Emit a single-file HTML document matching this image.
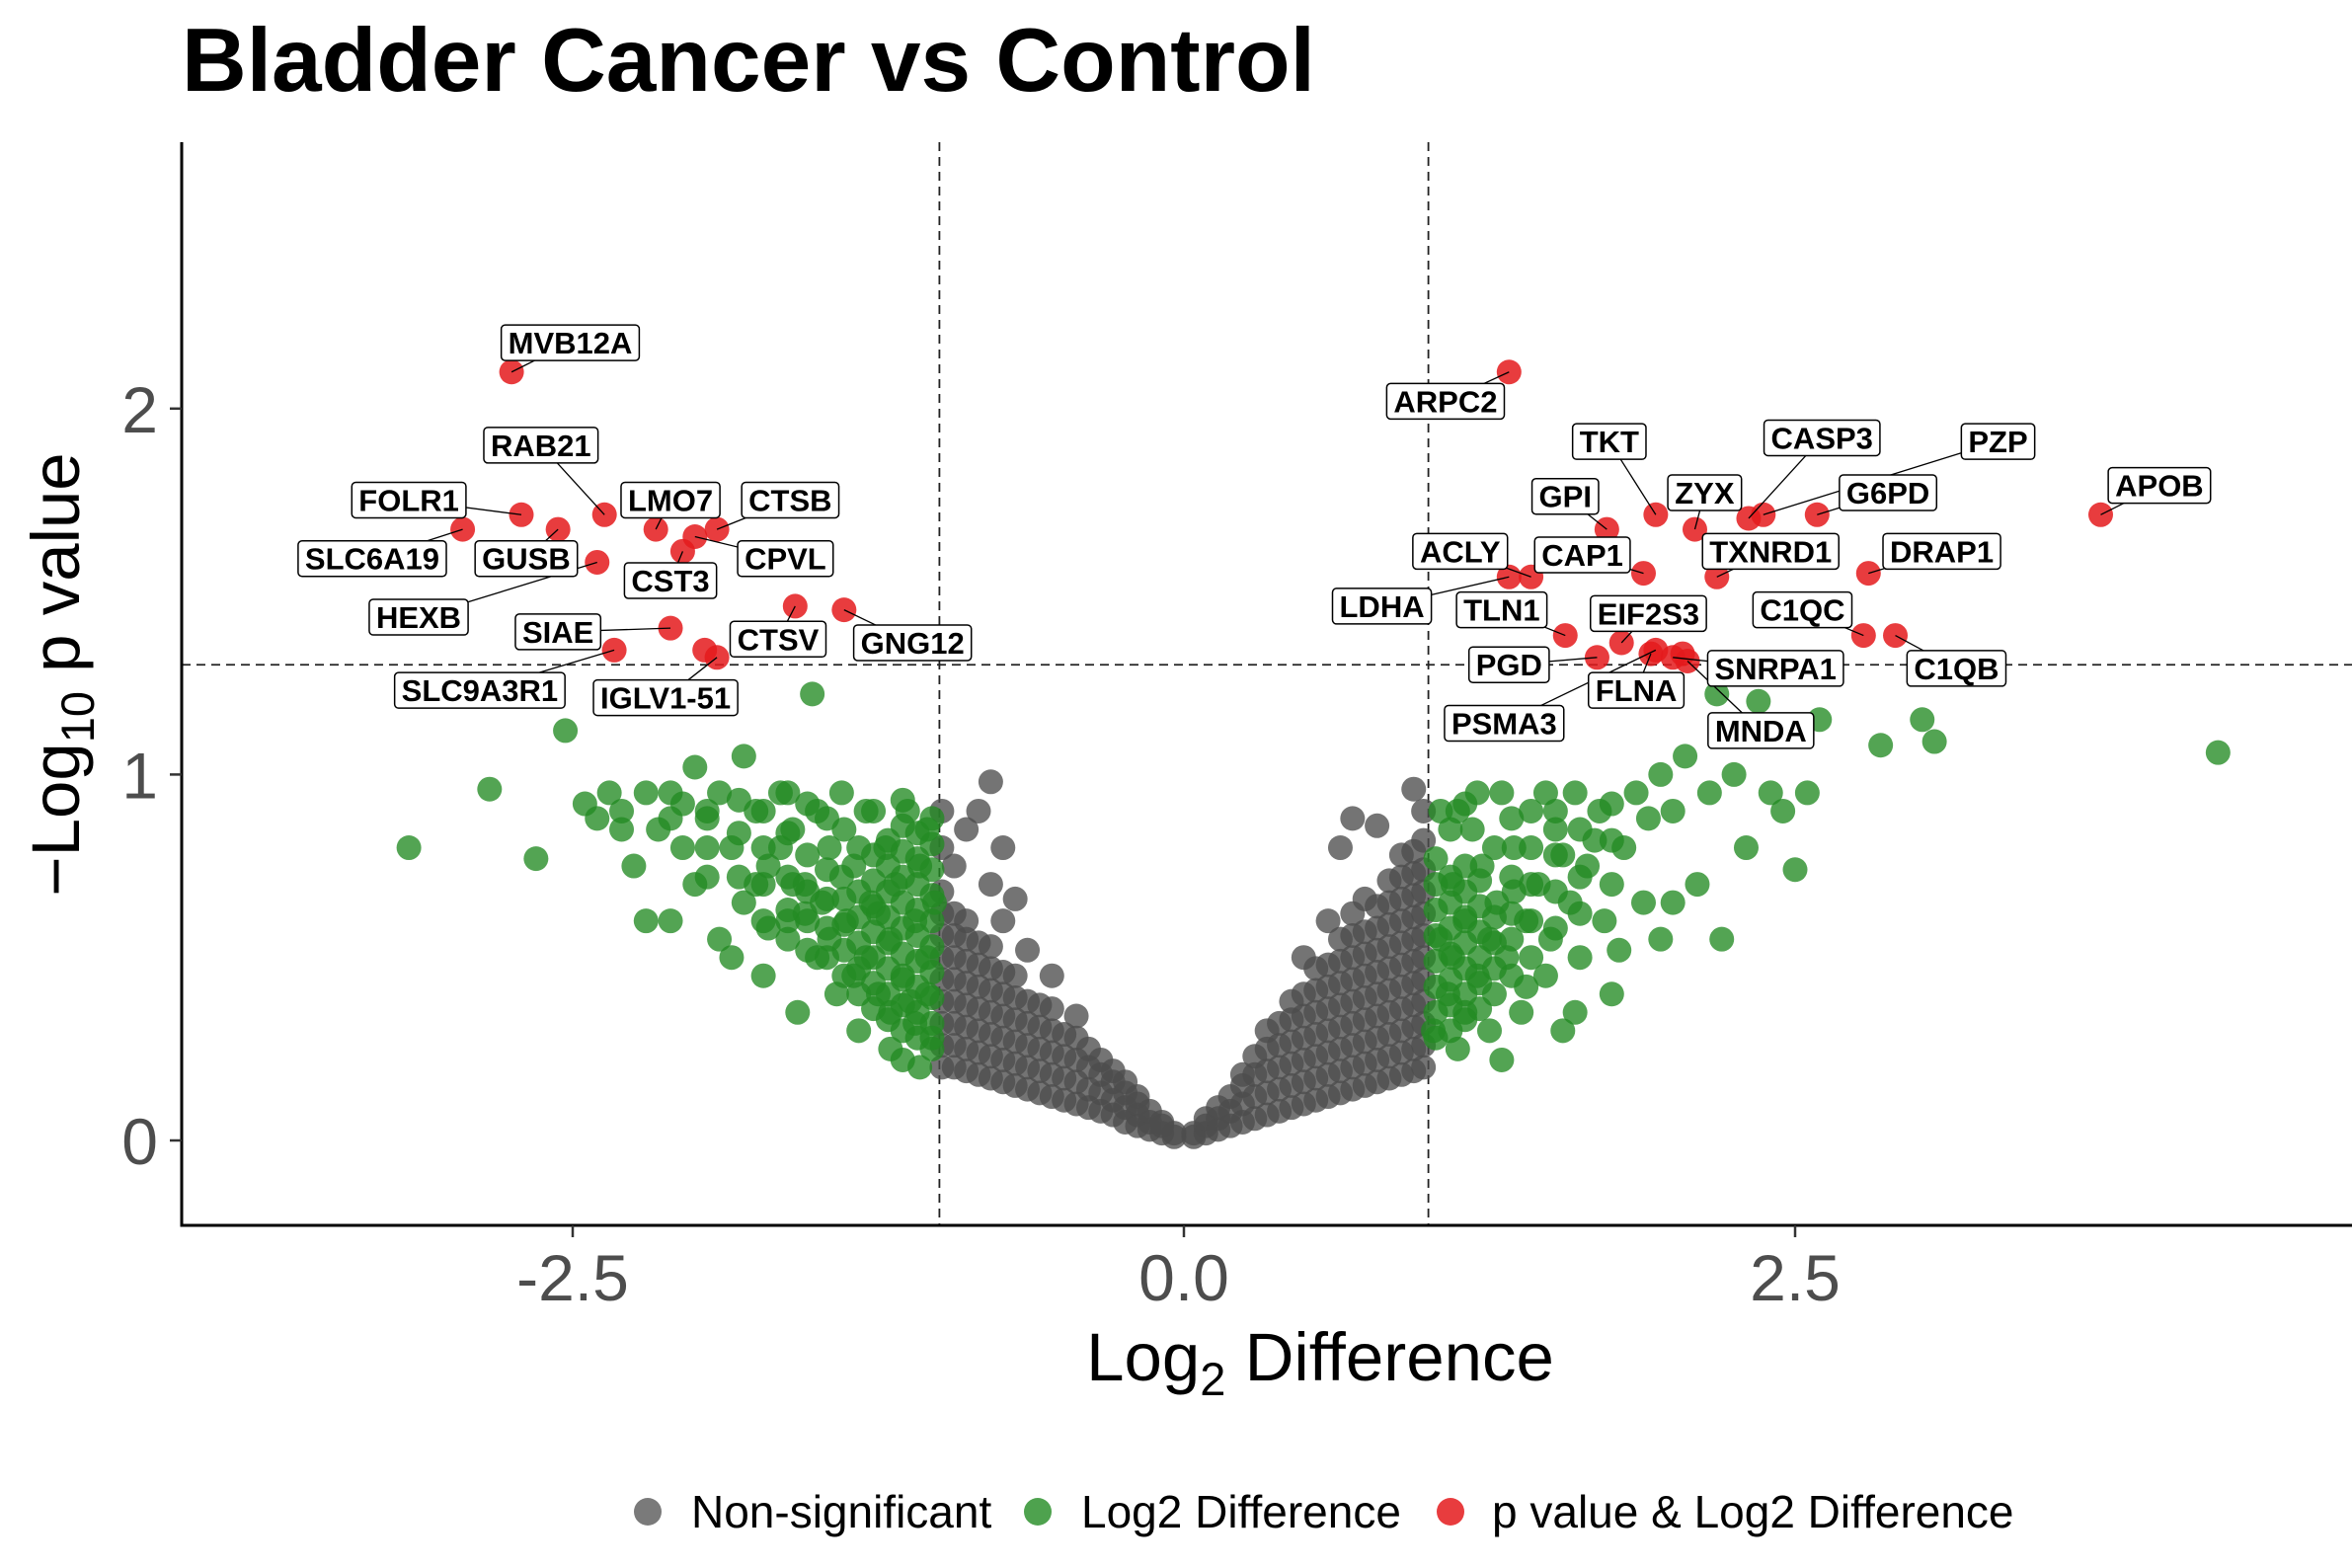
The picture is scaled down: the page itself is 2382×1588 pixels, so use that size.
<!DOCTYPE html>
<html><head><meta charset="utf-8">
<style>
html,body{margin:0;padding:0;background:#fff;}
svg{display:block;font-family:"Liberation Sans",Arial,sans-serif;}
</style></head>
<body>
<svg id="chart" width="2382" height="1588" viewBox="0 0 2382 1588" xmlns="http://www.w3.org/2000/svg">
<rect x="0" y="0" width="2382" height="1588" fill="#fff"/>
<text x="184" y="92" font-size="91" font-weight="bold" fill="#000">Bladder Cancer vs Control</text>
<g id="grid"></g>
<g id="gray"></g>
<g id="green"></g>
<g id="red"></g>
<g id="segs"></g>
<g id="labels"></g>
<g id="axes"></g>
<text x="1337" y="1398" font-size="69" text-anchor="middle" fill="#000">Log<tspan font-size="47" dy="15">2</tspan><tspan dy="-15"> Difference</tspan></text>
<text transform="translate(80,683) rotate(-90)" font-size="69" text-anchor="middle" fill="#000">−Log<tspan font-size="47" dy="15">10</tspan><tspan dy="-15"> p value</tspan></text>
<g>
<circle cx="656" cy="1531" r="14" fill="#4d4d4d" fill-opacity="0.75"/>
<text x="700" y="1547" font-size="46" fill="#000">Non-significant</text>
<circle cx="1051" cy="1531" r="14" fill="#228b22" fill-opacity="0.8"/>
<text x="1095" y="1547" font-size="46" fill="#000">Log2 Difference</text>
<circle cx="1469" cy="1531" r="14" fill="#e41a1c" fill-opacity="0.85"/>
<text x="1511" y="1547" font-size="46" fill="#000">p value &amp; Log2 Difference</text>
</g>
</svg>
<script>
// ---- data ----
const xTicks = [-2.5, 0.0, 2.5];
const xTickLabels = ["-2.5", "0.0", "2.5"];
const yTicks = [0, 1, 2];
const yTickLabels = ["0", "1", "2"];
const fcCut = [-1, 1];
const pCut = 1.3;
const grayCols = [
[-0.99,[.2,.26,.32,.38,.44,.5,.56,.62,.68,.8,.9]],
[-0.94,[.2,.26,.32,.38,.44,.5,.56,.62,.75]],
[-0.89,[.19,.25,.31,.37,.43,.49,.55,.6,.85]],
[-0.84,[.18,.24,.3,.36,.42,.48,.54,.9]],
[-0.79,[.17,.23,.29,.35,.41,.47,.53,.98,.7]],
[-0.74,[.16,.22,.28,.34,.4,.46,.8,.6]],
[-0.69,[.15,.21,.27,.33,.39,.45,.66]],
[-0.64,[.14,.2,.26,.32,.38,.52]],
[-0.59,[.13,.19,.25,.31,.37]],
[-0.54,[.12,.18,.24,.3,.36,.45]],
[-0.49,[.11,.17,.23,.29]],
[-0.44,[.1,.16,.22,.28,.34]],
[-0.39,[.09,.14,.2,.25]],
[-0.34,[.08,.13,.18,.22]],
[-0.29,[.07,.11,.16,.19]],
[-0.24,[.05,.09,.13,.16]],
[-0.19,[.04,.07,.1,.12]],
[-0.14,[.03,.05,.08]],
[-0.09,[.02,.04,.05]],
[-0.04,[.01,.02]],
[0.04,[.01,.02]],
[0.09,[.02,.04,.06]],
[0.14,[.03,.06,.09]],
[0.19,[.04,.08,.12]],
[0.24,[.05,.1,.15,.18]],
[0.29,[.06,.12,.18,.23]],
[0.34,[.07,.13,.19,.25,.3]],
[0.39,[.08,.14,.2,.26,.32]],
[0.44,[.09,.15,.21,.27,.33,.38]],
[0.49,[.1,.16,.22,.28,.34,.4,.5]],
[0.54,[.11,.17,.23,.29,.35,.41,.47]],
[0.59,[.12,.18,.24,.3,.36,.42,.48,.6]],
[0.64,[.13,.19,.25,.31,.37,.43,.49,.55,.8]],
[0.69,[.14,.2,.26,.32,.38,.44,.5,.56,.62,.88]],
[0.74,[.15,.21,.27,.33,.39,.45,.51,.57,.66]],
[0.79,[.16,.22,.28,.34,.4,.46,.52,.58,.64,.86]],
[0.84,[.17,.23,.29,.35,.41,.47,.53,.59,.65,.71]],
[0.89,[.18,.24,.3,.36,.42,.48,.54,.6,.66,.72,.78]],
[0.94,[.19,.25,.31,.37,.43,.49,.55,.61,.67,.73,.79,.96]],
[0.98,[.2,.26,.32,.38,.44,.5,.56,.62,.68,.74,.82,.9]]
];
const greenCols = [
[-1.03,[.25,.32,.39,.46,.53,.6,.67,.74,.81,.88]],
[-1.09,[.28,.35,.42,.49,.56,.63,.7,.77,.84]],
[-1.15,[.3,.37,.44,.51,.58,.65,.72,.79,.86,.93]],
[-1.21,[.33,.4,.47,.54,.61,.68,.75,.82]],
[-1.27,[.36,.43,.5,.57,.64,.71,.78,.9]],
[-1.33,[.4,.47,.54,.61,.68,.8]],
[-1.39,[.45,.52,.59,.66,.85]],
[-1.46,[.5,.58,.66,.74,.88]],
[-1.54,[.52,.6,.68,.78,.92]],
[-1.62,[.55,.63,.72,.84,.95]],
[-1.72,[.6,.7,.8,.9]],
[-1.82,[.72,.84,.93]],
[-1.95,[.8,.9]],
[-2.1,[.88,.95]],
[1.03,[.28,.35,.42,.49,.56,.63,.7,.77]],
[1.09,[.3,.37,.44,.51,.58,.65,.72,.85]],
[1.15,[.33,.4,.47,.54,.61,.68,.75,.92]],
[1.21,[.36,.43,.5,.57,.64,.71]],
[1.27,[.4,.47,.54,.61,.8]],
[1.34,[.45,.55,.62,.72,.88]],
[1.42,[.5,.6,.7,.8]],
[1.52,[.58,.68,.78,.9]],
[1.62,[.62,.72,.85]],
[1.75,[.7,.82,.92]]
];
const greenPts = [
[-3.17,0.80],[-2.84,0.96],[-2.65,0.77],[-2.53,1.12],[-2.4,0.88],[-2.35,0.95],[-2.3,0.9],[-2.25,0.75],[-2.2,0.95],[-2.15,0.85],[-2.1,0.6],[-2.05,0.92],[-2.0,0.7],[-2.0,1.02],[-1.95,0.88],[-1.9,0.55],[-1.9,0.95],[-1.85,0.8],[-1.8,1.05],[-1.8,0.65],[-1.75,0.9],[-1.72,0.45],[-1.7,0.75],[-1.65,0.95],[-1.62,0.6],[-1.6,0.85],[-1.58,0.35],[-1.55,0.7],[-1.52,1.22],[-1.5,0.9],[-1.5,0.5],[-1.48,0.65],[-1.45,0.8],[-1.42,0.4],[-1.4,0.95],[-1.38,0.6],[-1.35,0.75],[-1.33,0.3],[-1.3,0.5],[-1.3,0.9],[-1.28,0.65],[-1.25,0.4],[-1.22,0.8],[-1.2,0.55],[-1.2,0.25],[-1.18,0.7],[-1.15,0.45],[-1.13,0.9],[-1.1,0.6],[-1.1,0.32],[-1.08,0.75],[-1.05,0.5],[-1.05,0.85],[-1.03,0.28],[-1.02,0.65],[-1.15,0.22],[-1.7,0.58],[-1.85,0.5],[-2.2,0.6],[-2.05,0.8],[-1.6,0.7],[-1.45,0.55],[-1.35,0.45],[-1.25,0.62],[-1.12,0.38],[-1.4,0.72],[-1.55,0.62],[-1.65,0.8],[-1.75,0.7],[-1.95,0.72],[-2.3,0.85],[-2.45,0.92],[-1.05,0.4],[-1.08,0.2],[-1.2,0.35],
[1.02,0.3],[1.05,0.55],[1.05,0.9],[1.08,0.4],[1.1,0.7],[1.12,0.25],[1.15,0.6],[1.18,0.85],[1.2,0.45],[1.22,0.75],[1.25,0.3],[1.28,0.65],[1.3,0.95],[1.32,0.5],[1.35,0.8],[1.38,0.35],[1.4,0.6],[1.42,0.9],[1.45,0.7],[1.48,0.45],[1.5,0.55],[1.52,0.85],[1.55,0.3],[1.58,0.65],[1.6,0.95],[1.62,0.5],[1.65,0.75],[1.7,0.9],[1.72,0.6],[1.75,0.4],[1.8,0.8],[1.85,0.95],[1.88,0.65],[1.9,0.88],[1.95,0.55],[2.0,0.9],[2.05,1.05],[2.1,0.7],[2.15,0.95],[2.2,0.55],[2.25,1.0],[2.3,0.8],[2.35,1.2],[2.45,0.9],[2.5,0.74],[2.55,0.95],[2.6,1.15],[2.85,1.08],[3.02,1.15],[3.07,1.09],[4.23,1.06],[1.12,0.9],[1.25,0.55],[1.4,0.42],[1.3,0.22],[1.6,0.35],[1.2,0.95],[1.48,0.95],[1.78,0.52],[1.95,1.0],[2.0,0.65],[1.68,0.82],[1.1,0.5],[1.35,0.68],[1.55,0.78],[2.4,0.95],[2.18,1.22],[1.15,0.35]
];
const geneNames = ["MVB12A","FOLR1","SLC6A19","RAB21","GUSB","HEXB","LMO7","CTSB","CPVL","CST3","SIAE","SLC9A3R1","IGLV1-51","CTSV","GNG12","ARPC2","TKT","GPI","ZYX","CASP3","PZP","G6PD","APOB","ACLY","CAP1","TXNRD1","DRAP1","LDHA","TLN1","EIF2S3","C1QC","C1QB","PGD","FLNA","SNRPA1","PSMA3","MNDA"];
const geneX = [-2.75,-2.71,-2.95,-2.37,-2.56,-2.40,-2.16,-1.91,-2.0,-2.05,-2.10,-2.33,-1.91,-1.59,-1.39,1.33,1.93,1.73,2.09,2.31,2.37,2.59,3.75,1.42,1.88,2.18,2.80,1.33,1.56,1.79,2.78,2.91,1.69,1.91,2.0,1.93,2.06];
const geneY = [2.10,1.71,1.67,1.71,1.67,1.58,1.67,1.67,1.65,1.61,1.40,1.34,1.32,1.46,1.45,2.10,1.71,1.67,1.67,1.70,1.71,1.71,1.71,1.54,1.55,1.54,1.55,1.54,1.38,1.36,1.38,1.38,1.32,1.33,1.32,1.34,1.31];
const labelX = [-2.51,-3.17,-3.32,-2.63,-2.69,-3.13,-2.10,-1.61,-1.63,-2.10,-2.56,-2.88,-2.12,-1.66,-1.11,1.07,1.74,1.56,2.13,2.61,3.33,2.88,3.99,1.13,1.63,2.40,3.10,0.81,1.30,1.90,2.53,3.16,1.33,1.85,2.42,1.31,2.36];
const labelY = [2.18,1.75,1.59,1.90,1.59,1.43,1.75,1.75,1.59,1.53,1.39,1.23,1.21,1.37,1.36,2.02,1.91,1.76,1.77,1.92,1.91,1.77,1.79,1.61,1.60,1.61,1.61,1.46,1.45,1.44,1.45,1.29,1.30,1.23,1.29,1.14,1.12];
const extraRedX = [-1.96, 2.04];
const extraRedY = [1.34, 1.33];

// ---- scales ----
const X0 = 1199, XU = 247.6, Y0 = 1155, YU = 370.6;
const PL = 184, PR = 2382, PT = 144, PB = 1241;
function sx(v){ return X0 + v*XU; }
function sy(v){ return Y0 - v*YU; }
const NS = "http://www.w3.org/2000/svg";
function mk(tag, attrs, parent){
  const e = document.createElementNS(NS, tag);
  for (const k in attrs) e.setAttribute(k, attrs[k]);
  parent.appendChild(e);
  return e;
}
const gGrid = document.getElementById('grid');
const gGray = document.getElementById('gray');
const gGreen = document.getElementById('green');
const gRed = document.getElementById('red');
const gSegs = document.getElementById('segs');
const gLab = document.getElementById('labels');
const gAx = document.getElementById('axes');
const R = 12.5;

fcCut.forEach(function(c){
  const l = mk('line', {x1:sx(c), x2:sx(c), y1:PT, y2:PB, stroke:'#222', 'stroke-width':1.8, 'stroke-dasharray':'9,6'}, gGrid);
  
  
});
const hl = mk('line', {x1:PL, x2:PR, y1:sy(pCut), y2:sy(pCut), stroke:'#222', 'stroke-width':1.8, 'stroke-dasharray':'9,6'}, gGrid);



grayCols.forEach(function(col){
  col[1].forEach(function(yv){
    const c = mk('circle', {cx:sx(col[0]), cy:sy(yv), r:R, fill:'#4d4d4d', 'fill-opacity':0.78}, gGray);
    
    
  });
});
greenCols.forEach(function(col){
  col[1].forEach(function(yv){
    const c = mk('circle', {cx:sx(col[0]), cy:sy(yv), r:R, fill:'#228b22', 'fill-opacity':0.78}, gGreen);
    
    
  });
});
greenPts.forEach(function(p){
  const c = mk('circle', {cx:sx(p[0]), cy:sy(p[1]), r:R, fill:'#228b22', 'fill-opacity':0.78}, gGreen);
  
  
});
extraRedX.forEach(function(xv, i){
  const c = mk('circle', {cx:sx(xv), cy:sy(extraRedY[i]), r:R, fill:'#e41a1c', 'fill-opacity':0.85}, gRed);
  
  
});
geneNames.forEach(function(name, i){
  const px = sx(geneX[i]), py = sy(geneY[i]);
  const c = mk('circle', {cx:px, cy:py, r:R, fill:'#e41a1c', 'fill-opacity':0.85}, gRed);
  
  
  const lx = sx(labelX[i]), ly = sy(labelY[i]);
  const seg = mk('line', {x1:px, y1:py, x2:lx, y2:ly, stroke:'#000', 'stroke-width':1.3}, gSegs);
  
  
  const g = mk('g', {}, gLab);
  
  
  const rect = mk('rect', {fill:'#fff', stroke:'#000', 'stroke-width':1.5, rx:4}, g);
  const t = mk('text', {x:lx, y:ly + 11, 'font-size':31, 'font-weight':'bold', 'text-anchor':'middle', fill:'#000'}, g);
  t.textContent = name;
  const w = t.getBBox().width + 14;
  rect.setAttribute('x', lx - w/2);
  rect.setAttribute('y', ly - 18);
  rect.setAttribute('width', w);
  rect.setAttribute('height', 36);
});

const ya = mk('line', {x1:PL, x2:PL, y1:PT, y2:PB+1.5, stroke:'#000', 'stroke-width':3}, gAx);


const xa = mk('line', {x1:PL-1.5, x2:PR, y1:PB, y2:PB, stroke:'#000', 'stroke-width':3}, gAx);


xTicks.forEach(function(v, i){
  const tk = mk('line', {x1:sx(v), x2:sx(v), y1:PB, y2:PB+12, stroke:'#333', 'stroke-width':2.5}, gAx);
  
  
  const t = mk('text', {x:sx(v), y:PB+76, 'font-size':66, 'text-anchor':'middle', fill:'#4d4d4d'}, gAx);
  t.textContent = xTickLabels[i];
  
  
});
yTicks.forEach(function(v, i){
  const tk = mk('line', {x1:PL-12, x2:PL, y1:sy(v), y2:sy(v), stroke:'#333', 'stroke-width':2.5}, gAx);
  
  
  const t = mk('text', {x:PL-24, y:sy(v)+24, 'font-size':66, 'text-anchor':'end', fill:'#4d4d4d'}, gAx);
  t.textContent = yTickLabels[i];
  
  
});
</script>
</body></html>
